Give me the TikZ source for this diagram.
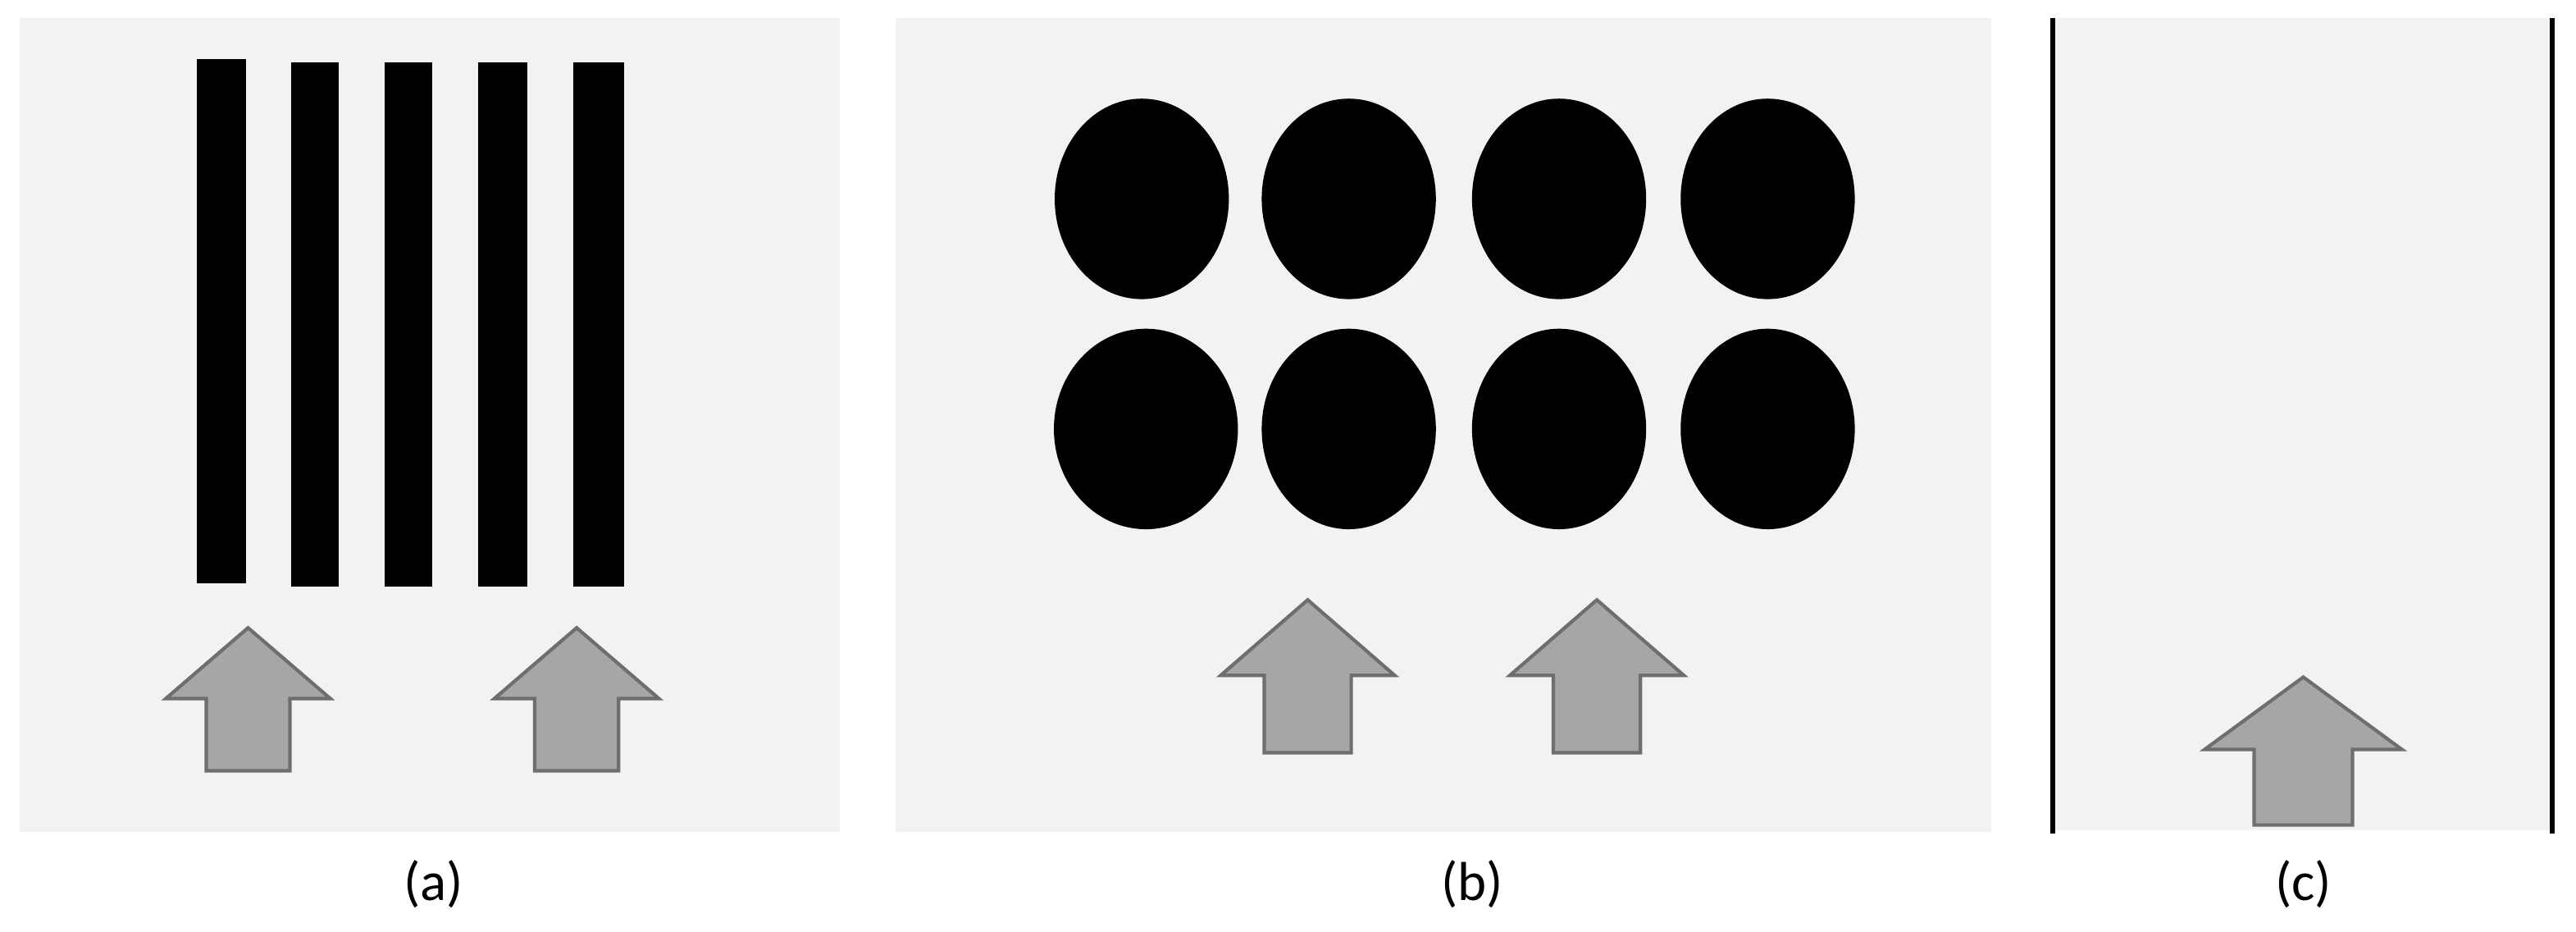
\documentclass[tikz,border=0pt]{standalone}
\usepackage{fontspec}
\setmainfont{Carlito}
\usepackage{xcolor}
\usepackage{tikz}
\usetikzlibrary{positioning}
\definecolor{pnBack}{HTML}{F2F2F2}
\definecolor{pnFlow}{HTML}{A6A6A6}
\definecolor{pnEdge}{HTML}{6E6E6E}
\tikzset{
  panel/.style={fill=pnBack, draw=none},
  bar/.style={fill=black, draw=none},
  blob/.style={fill=black, draw=none},
  wall/.style={draw=black, line width=0.75pt},
  flowarrow/.style={fill=pnFlow, draw=pnEdge, line width=0.6pt, line join=miter},
  caption/.style={font=\fontsize{9.5}{11}\selectfont, inner sep=0pt}
}
% cx, tip, shoulder, bottom, head half width, shaft half width
\newcommand{\flowup}[6]{%
  \filldraw[flowarrow] (#1,#2) -- ({#1+#5},#3) -- ({#1+#6},#3) -- ({#1+#6},#4)
    -- ({#1-#6},#4) -- ({#1-#6},#3) -- ({#1-#5},#3) -- cycle;}

\begin{document}
\begin{tikzpicture}[x=0.1mm, y=-0.1mm]
  \useasboundingbox[fill=white] (0,0) rectangle (1568,567);

  % (a) gratings
  \fill[panel] (12,11) rectangle (511,506);
  \foreach \xl/\xr/\yt/\yb in {120/150/36/355, 177/206/38/357, 234/263/38/357, 291/321/38/357, 349/380/38/357}
    \fill[bar] (\xl,\yt) rectangle (\xr,\yb);
  \flowup{151}{382}{425}{469}{50}{25.5}
  \flowup{351}{382}{425}{469}{50}{25.5}
  \node[caption] (capa) at (264,538) {(a)};

  % (b) pillars
  \fill[panel] (545,11) rectangle (1212,506);
  \foreach \cx in {695,821,949,1076}
    \fill[blob] (\cx,121) ellipse [x radius=53, y radius=61];
  \fill[blob] (697.5,261) ellipse [x radius=56, y radius=61];
  \foreach \cx in {821,949,1076}
    \fill[blob] (\cx,261) ellipse [x radius=53, y radius=61];
  \flowup{796}{365}{411}{458}{53}{26.5}
  \flowup{972}{365}{411}{458}{53}{26.5}
  \node[caption] (capb) at (896,538) {(b)};

  % (c) open channel
  \fill[panel] (1250,11) rectangle (1553,505);
  \draw[wall] (1249.5,11) -- (1249.5,507);
  \draw[wall] (1553.5,11) -- (1553.5,507);
  \flowup{1402}{412}{456}{502}{60}{30}
  \node[caption] (capc) at (1402,538) {(c)};
\end{tikzpicture}
\end{document}
